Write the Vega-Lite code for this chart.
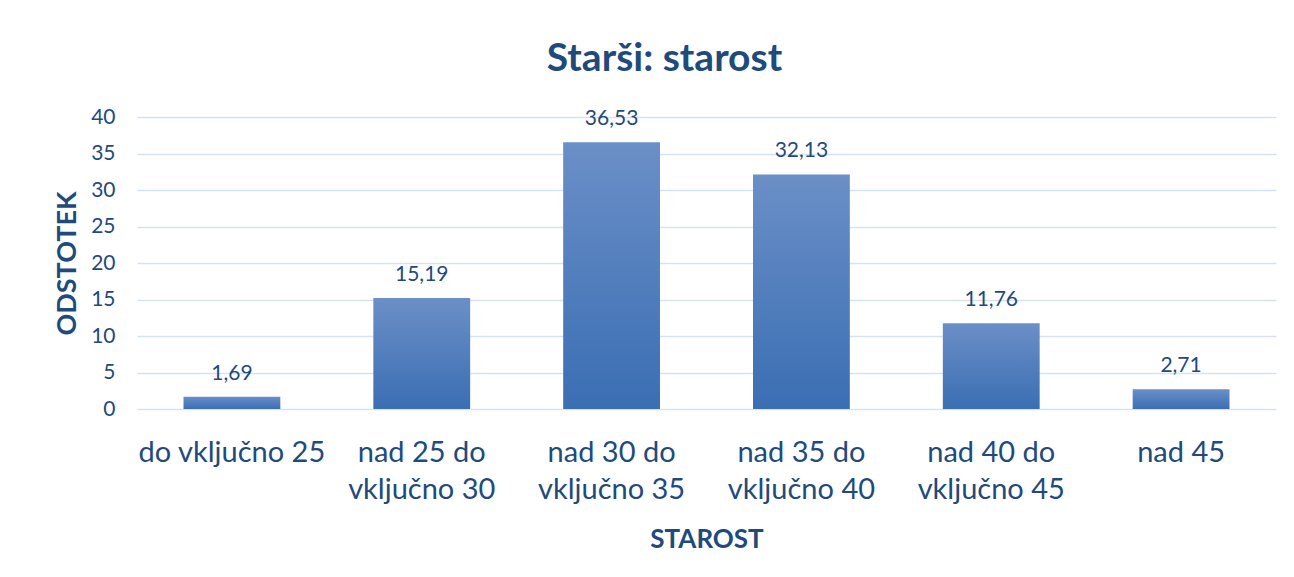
{
  "$schema": "https://vega.github.io/schema/vega-lite/v6.json",
  "autosize": "none",
  "width": 1139,
  "height": 292,
  "padding": {"left": 137, "top": 117, "right": 18, "bottom": 168},
  "background": "white",
  "title": {
    "text": "Starši: starost",
    "font": "Lato",
    "fontSize": 39,
    "fontWeight": "bold",
    "color": "#1f4a7c",
    "anchor": "middle",
    "frame": "bounds",
    "baseline": "alphabetic",
    "offset": -4
  },
  "data": {
    "values": [
      {"starost": "do vključno 25", "odstotek": 1.69, "oznaka": "1,69"},
      {"starost": "nad 25 do vključno 30", "odstotek": 15.19, "oznaka": "15,19"},
      {"starost": "nad 30 do vključno 35", "odstotek": 36.53, "oznaka": "36,53"},
      {"starost": "nad 35 do vključno 40", "odstotek": 32.13, "oznaka": "32,13"},
      {"starost": "nad 40 do vključno 45", "odstotek": 11.76, "oznaka": "11,76"},
      {"starost": "nad 45", "odstotek": 2.71, "oznaka": "2,71"}
    ]
  },
  "encoding": {
    "x": {
      "field": "starost",
      "type": "nominal",
      "sort": null,
      "scale": {"paddingInner": 0.49, "paddingOuter": 0.245},
      "axis": {
        "title": "STAROST",
        "labelAngle": 0,
        "labelFont": "Lato",
        "labelFontSize": 29,
        "labelColor": "#1f4a7c",
        "labelBaseline": "alphabetic",
        "labelPadding": 52,
        "labelLineHeight": 37,
        "labelLimit": 400,
        "labelExpr": "split(replace(datum.value, ' do ', ' do|'), '|')",
        "ticks": false,
        "domain": false,
        "titleFont": "Lato",
        "titleFontSize": 26,
        "titleFontWeight": "bold",
        "titleColor": "#1f4a7c",
        "titleBaseline": "alphabetic",
        "titleY": 138
      }
    },
    "y": {
      "field": "odstotek",
      "type": "quantitative",
      "scale": {"domain": [0, 40], "nice": false},
      "axis": {
        "title": "ODSTOTEK",
        "values": [0, 5, 10, 15, 20, 25, 30, 35, 40],
        "labelFont": "Lato",
        "labelFontSize": 21,
        "labelColor": "#1f4a7c",
        "labelPadding": 22,
        "ticks": false,
        "domain": false,
        "grid": true,
        "gridColor": "#d6e2f2",
        "gridWidth": 1.5,
        "titleFont": "Lato",
        "titleFontSize": 27,
        "titleFontWeight": "bold",
        "titleColor": "#1f4a7c",
        "titleBaseline": "alphabetic",
        "titleX": -62,
        "titleY": 146
      }
    }
  },
  "layer": [
    {
      "mark": {
        "type": "bar",
        "color": {
          "gradient": "linear",
          "x1": 0, "y1": 0, "x2": 0, "y2": 1,
          "stops": [
            {"offset": 0, "color": "#6b8fc7"},
            {"offset": 1, "color": "#3a6eb3"}
          ]
        }
      }
    },
    {
      "mark": {
        "type": "text",
        "font": "Lato",
        "fontSize": 21,
        "color": "#1f4a7c",
        "baseline": "alphabetic",
        "dy": -17
      },
      "encoding": {"text": {"field": "oznaka"}}
    }
  ],
  "config": {"view": {"stroke": null}}
}
